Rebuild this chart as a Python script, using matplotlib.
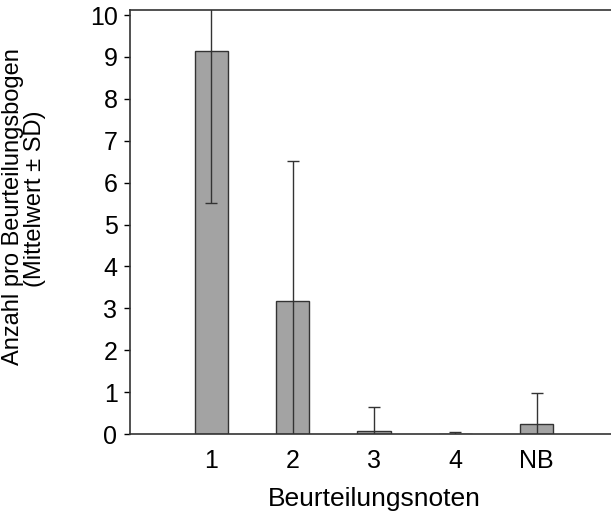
import matplotlib
matplotlib.use("Agg")
import matplotlib.pyplot as plt
import numpy as np

plt.rcParams["font.family"] = ["Liberation Sans", "DejaVu Sans"]

noten = ["1", "2", "3", "4", "NB"]
mittelwert = [9.15, 3.18, 0.08, 0.0, 0.25]
sd = [3.63, 3.33, 0.57, 0.05, 0.74]

W, H = 611, 520
fig = plt.figure(figsize=(W / 100, H / 100), dpi=100)
# Achse ragt rechts etwas über den Bildrand hinaus (wie im Original)
links, rechts, oben, unten = 130, 618, 10, 434
ax = fig.add_axes([links / W, 1 - unten / H, (rechts - links) / W, (unten - oben) / H])

x = np.arange(1, len(noten) + 1)
ax.bar(x, mittelwert, width=0.41, color="#a3a3a3", edgecolor="#333333",
       linewidth=1.0, zorder=2)
ax.errorbar(x, mittelwert, yerr=sd, fmt="none", ecolor="#333333",
            elinewidth=1.0, capsize=4, capthick=1.0, zorder=3)

ax.set_xlim(0, 6)
ax.set_ylim(0, 10.12)
ax.set_yticks(range(0, 11))
ax.set_xticks(x, noten)
ax.tick_params(axis="x", length=0, pad=11, labelsize=18)
ax.tick_params(axis="y", length=4, width=1, pad=5, labelsize=18)
ax.spines["right"].set_visible(False)
for s in ("left", "bottom", "top"):
    ax.spines[s].set_linewidth(1.2)
    ax.spines[s].set_color("#333333")

ax.set_xlabel("Beurteilungsnoten", fontsize=19, labelpad=10)
# y-Beschriftung zweizeilig, Zeilen einzeln gesetzt
fig.text(13 / W, 1 - 207 / H, "Anzahl pro Beurteilungsbogen",
         rotation=90, ha="center", va="center", fontsize=17)
fig.text(35 / W, 1 - 199 / H, "(Mittelwert ± SD)",
         rotation=90, ha="center", va="center", fontsize=17)

fig.savefig("out.png", dpi=100)
